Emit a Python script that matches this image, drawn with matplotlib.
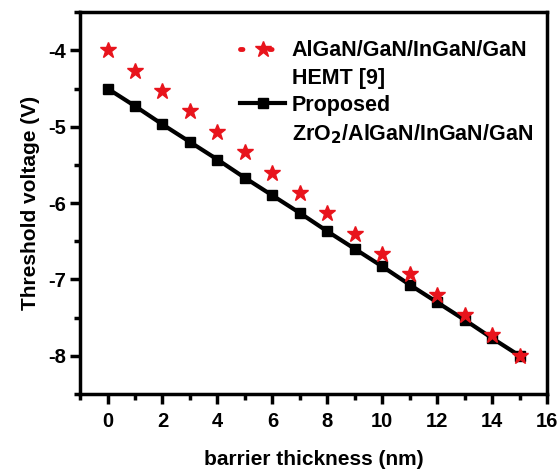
import matplotlib
matplotlib.use("Agg")
import matplotlib.pyplot as plt
from matplotlib.lines import Line2D
from matplotlib.ticker import MultipleLocator

plt.rcParams['font.family'] = ['Liberation Sans', 'DejaVu Sans']
plt.rcParams['font.weight'] = 'bold'
plt.rcParams['axes.unicode_minus'] = False

thickness = list(range(16))
ref_vth = [-4.00, -4.27, -4.53, -4.80, -5.07, -5.33, -5.60, -5.87,
           -6.13, -6.40, -6.67, -6.93, -7.20, -7.47, -7.73, -8.00]
prop_vth = [-4.50, -4.73, -4.97, -5.20, -5.43, -5.67, -5.90, -6.13,
            -6.37, -6.60, -6.83, -7.07, -7.30, -7.53, -7.77, -8.00]

fig = plt.figure(figsize=(5.6, 4.69), dpi=100)
ax = fig.add_axes([0.143, 0.160, 0.834, 0.814])

ax.plot(thickness, ref_vth, linestyle='none', marker='*', color='#e8141c',
        markersize=12, zorder=3)
ax.plot(thickness, prop_vth, color='black', linewidth=3, marker='s',
        markersize=7, zorder=2)

ax.set_xlim(-1, 16)
ax.set_ylim(-8.5, -3.5)
ax.xaxis.set_major_locator(MultipleLocator(2))
ax.xaxis.set_minor_locator(MultipleLocator(1))
ax.yaxis.set_major_locator(MultipleLocator(1))
ax.yaxis.set_minor_locator(MultipleLocator(0.5))
ax.tick_params(which='both', direction='out', width=2.5, labelsize=14.5)
ax.tick_params(which='major', length=7, pad=6)
ax.tick_params(axis='y', which='major', pad=3)
ax.tick_params(which='minor', length=4)
for s in ax.spines.values():
    s.set_linewidth(2.5)

ax.set_xlabel('barrier thickness (nm)', fontsize=15, fontweight='bold', labelpad=14)
ax.set_ylabel('Threshold voltage (V)', fontsize=15, fontweight='bold', labelpad=6)

# legend: one row per text line so the handle sits on the first line
blank = Line2D([0], [0], linestyle='none', marker='none')
handles = [
    Line2D([0], [0], color='#e8141c', linestyle=(0, (0.5, 5.5)), linewidth=3.5,
           dash_capstyle='round', marker='*', markersize=12),
    blank,
    Line2D([0], [0], color='black', linewidth=3, marker='s', markersize=7),
    blank,
]
labels = ['AlGaN/GaN/InGaN/GaN', 'HEMT [9]', 'Proposed',
          'ZrO$_\\mathbf{2}$/AlGaN/InGaN/GaN']
leg = ax.legend(handles, labels, loc='upper left', bbox_to_anchor=(0.343, 0.927),
                frameon=False, fontsize=15.5, handlelength=2.1, handletextpad=0.3,
                labelspacing=0.3, borderaxespad=0, borderpad=0)
for t in leg.get_texts():
    t.set_fontweight('bold')

fig.savefig('out.png', dpi=100)
